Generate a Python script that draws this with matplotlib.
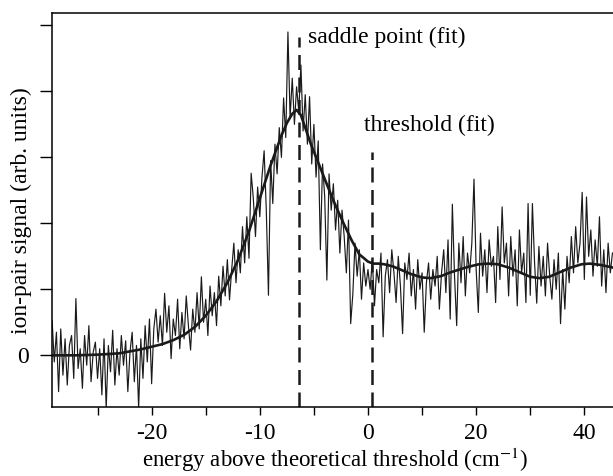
import numpy as np
import matplotlib
matplotlib.use("Agg")
import matplotlib.pyplot as plt

plt.rcParams["font.family"] = ["Liberation Serif", "DejaVu Serif"]
plt.rcParams["mathtext.fontset"] = "stix"

# measured trace, negative side: x = -29.2 ... 0.0, step 0.2
x_neg_start, x_neg_step = -29.2, 0.2
signal_neg = [
    0.53, -0.10, 0.35, -0.55, 0.40, -0.30, 0.25, -0.45, 0.15, 0.30,
    -0.35, 0.86, -0.20, 0.10, -0.50, 0.30, -0.15, 0.45, -0.40, 0.05,
    0.20, -0.35, 0.10, -0.60, 0.25, -0.80, 0.15, -0.25, 0.38, -0.45,
    0.10, -0.30, 0.30, -0.15, 0.22, -0.55, 0.05, 0.35, -0.40, 0.15,
    -0.80, 0.25, -0.35, 0.45, -0.10, 0.55, -0.43, 0.40, 0.70, 0.20,
    0.60, 0.15, 0.94, 0.35, 0.75, -0.05, 0.55, 0.30, 0.85, 0.10,
    0.65, 0.25, 0.90, 0.45, 0.08, 0.70, 0.35, 0.95, 0.40, 1.19,
    0.50, 0.85, 0.30, 1.05, 0.60, 0.95, 0.45, 1.20, 0.75, 1.35,
    0.90, 1.45, 0.84, 1.30, 1.70, 1.10, 1.60, 1.25, 1.95, 1.40,
    2.10, 1.47, 2.76, 2.38, 1.80, 2.55, 2.10, 2.70, 3.10, 2.20,
    0.91, 2.95, 2.30, 3.20, 2.75, 3.45, 3.00, 3.90, 3.30, 4.90,
    3.60, 4.20, 3.50, 4.07, 3.70, 4.40, 3.40, 3.95, 3.20, 3.92,
    2.90, 3.50, 2.70, 3.25, 1.60, 2.90, 2.40, 1.14, 2.75, 2.20,
    2.60, 1.90, 2.35, 1.55, 2.20, 1.80, 1.25, 2.05, 0.48, 0.93,
    1.70, 1.20, 1.60, 0.85, 1.40, 1.05, 1.30,
]

# measured trace, positive side: x = 0.4 ... 45.2, step 0.4
x_pos_start, x_pos_step = 0.4, 0.4
signal_pos = [
    1.00, 1.45, 0.75, 1.30, 1.10, 1.55, 0.28, 1.20, 1.45, 0.95,
    1.60, 1.25, 0.80, 1.50, 1.05, 0.33, 1.40, 1.15, 1.55, 0.90,
    1.30, 0.70, 1.45, 1.00, 1.25, 0.35, 1.10, 1.40, 0.85, 1.30,
    1.05, 1.50, 0.70, 1.25, 1.60, 0.95, 1.75, 0.55, 2.29, 1.20,
    0.45, 1.70, 1.10, 1.80, 0.90, 1.55, 1.25, 1.70, 2.67, 1.30,
    0.65, 1.85, 1.20, 1.60, 0.95, 1.75, 1.35, 1.50, 0.80, 1.95,
    1.15, 2.25, 1.40, 1.70, 0.90, 1.80, 1.20, 1.60, 0.75, 1.90,
    1.25, 1.55, 0.80, 2.30, 0.91, 2.30, 1.40, 0.79, 1.65, 1.05,
    1.50, 0.90, 1.70, 1.20, 0.85, 1.45, 1.00, 1.55, 0.48, 1.30,
    0.70, 1.50, 1.10, 1.80, 1.25, 1.95, 1.40, 1.70, 2.47, 1.15,
    2.40, 1.50, 1.90, 1.20, 1.75, 1.35, 2.10, 1.05, 1.60, 0.95,
    1.70, 1.25, 1.55,
]

# fit curve
fit_x = [-29.2, -27, -25, -23, -21, -20, -19, -18, -17, -16, -15, -14, -13,
         -12, -11, -10, -9, -8, -7.5, -7, -6.6, -6.2, -5.8, -5.3, -4.5,
         -3.7, -3, -2.2, -1.5, -0.8, 0, 1, 2, 3, 4.5, 6, 8, 10, 11.6,
         13.5, 15, 16.5, 18.5, 20.5, 22.2, 24, 26, 28, 30, 31.7, 33.5,
         35.5, 37.5, 39.5, 41, 43, 45.3]
fit_y = [0.00, 0.00, 0.01, 0.03, 0.09, 0.13, 0.17, 0.23, 0.31, 0.43, 0.60,
         0.82, 1.10, 1.45, 1.88, 2.38, 2.88, 3.33, 3.52, 3.66, 3.72, 3.64,
         3.45, 3.21, 2.88, 2.55, 2.27, 1.98, 1.74, 1.53, 1.42, 1.39, 1.39,
         1.38, 1.35, 1.30, 1.23, 1.18, 1.17, 1.20, 1.25, 1.29, 1.34, 1.38,
         1.39, 1.38, 1.33, 1.26, 1.19, 1.17, 1.19, 1.26, 1.33, 1.38, 1.39,
         1.37, 1.33]

saddle_x, saddle_top = -6.4, 4.82
thresh_x, thresh_top = 0.7, 3.08

x_neg = x_neg_start + x_neg_step * np.arange(len(signal_neg))
x_pos = x_pos_start + x_pos_step * np.arange(len(signal_pos))
x_all = np.concatenate([x_neg, x_pos])
y_all = np.concatenate([signal_neg, signal_pos])


# positive energies are drawn at half the scale of negative ones
def fwd(v):
    v = np.asarray(v, dtype=float)
    return np.where(v < 0, v, v / 2)


def inv(v):
    v = np.asarray(v, dtype=float)
    return np.where(v < 0, v, v * 2)


fs = 17
fig = plt.figure(figsize=(6.13, 4.76), dpi=100)
ax = fig.add_axes([0.085, 0.144, 0.915, 0.829])
ax.set_xscale("function", functions=(fwd, inv))

ax.plot(x_all, y_all, color="#1a1a1a", lw=0.85)
ax.plot(fit_x, fit_y, color="#1a1a1a", lw=1.9)

ax.plot([saddle_x, saddle_x], [-0.79, saddle_top], color="#1a1a1a", lw=1.8,
        dashes=(6, 3))
ax.plot([thresh_x, thresh_x], [-0.79, thresh_top], color="#1a1a1a", lw=1.8,
        dashes=(6, 3))
ax.text(-5.55, 4.82, "saddle point (fit)", fontsize=fs, va="center", ha="left")
ax.text(-0.37, 3.49, "threshold (fit)", fontsize=fs, va="center", ha="left")

ax.set_xlim(-29.2, 45.3)
ax.set_ylim(-0.79, 5.19)

ax.set_xticks([-20, -10, 0, 20, 40])
ax.set_xticklabels(["-20", "-10", "0", "20", "40"])
ax.set_xticks([-25, -15, -5, 10, 30], minor=True)
ax.set_yticks([0, 1, 2, 3, 4, 5])
ax.set_yticklabels(["0", "", "", "", "", ""])
ax.tick_params(axis="x", which="both", direction="out", length=6, width=1,
               labelsize=fs, pad=5)
ax.tick_params(axis="y", direction="out", length=9, width=1, labelsize=fs,
               pad=8)

for side in ["left", "bottom", "top"]:
    ax.spines[side].set_linewidth(1.1)
ax.spines["right"].set_visible(False)

ax.set_xlabel("energy above theoretical threshold (cm$^{-1}$)", fontsize=16.5)
ax.xaxis.set_label_coords(0.505, -0.152)
ax.xaxis.label.set_va("baseline")
ax.set_ylabel("ion-pair signal (arb. units)", fontsize=fs)
ax.yaxis.set_label_coords(-0.055, 0.50)
ax.yaxis.label.set_va("center")

fig.savefig("out.png", dpi=100)
